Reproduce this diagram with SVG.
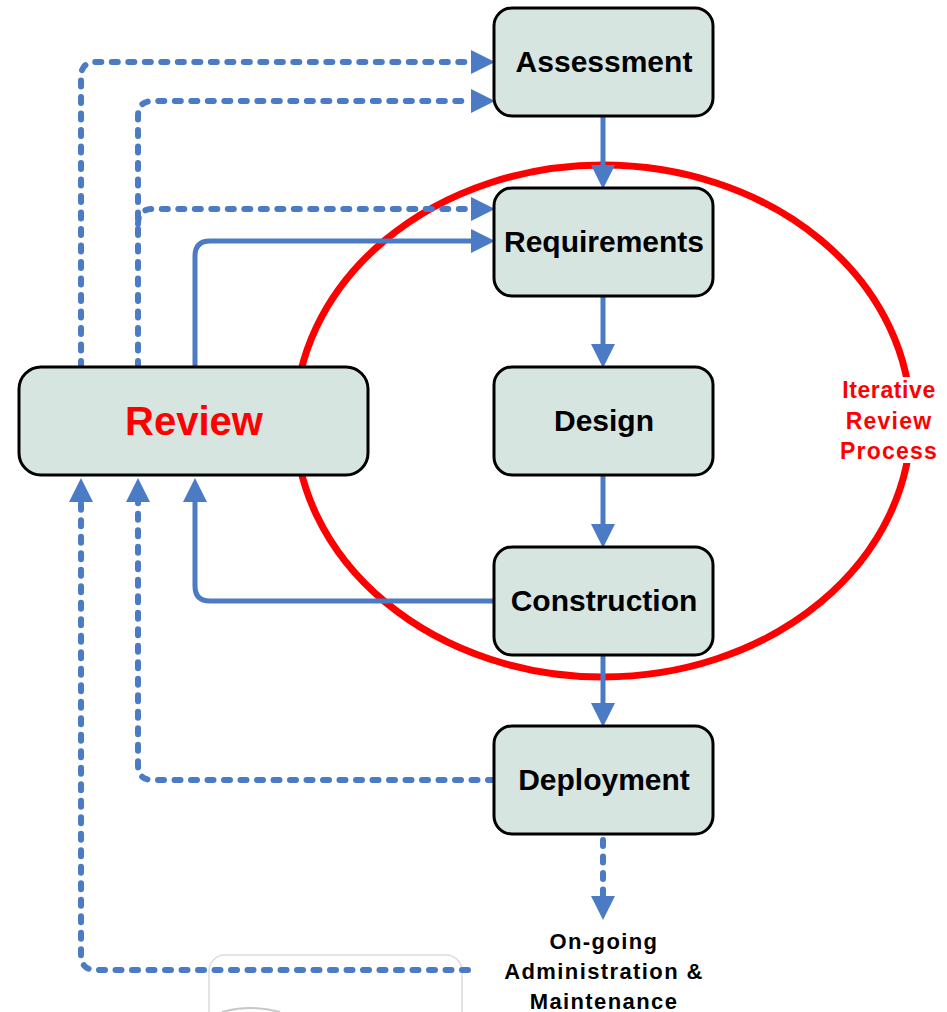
<svg xmlns="http://www.w3.org/2000/svg" width="947" height="1012" viewBox="0 0 947 1012">
<style>
.node{fill:#d7e5e0;stroke:#000;stroke-width:3}
.lbl{font-family:"Liberation Sans",Arial,sans-serif;font-weight:bold;font-size:30px;fill:#000;text-anchor:middle}
.c{fill:none;stroke:#4a7bc4;stroke-width:5}
.d{stroke-dasharray:6 10.5;stroke-linecap:round;stroke-width:6}
.red{font-family:"Liberation Sans",Arial,sans-serif;font-weight:bold;fill:#ff0000;text-anchor:middle}
.note{font-family:"Liberation Sans",Arial,sans-serif;font-weight:bold;font-size:22px;fill:#000;text-anchor:middle;letter-spacing:1.4px}
</style>
<defs>
<marker id="ah" markerUnits="userSpaceOnUse" markerWidth="24" markerHeight="24" refX="0" refY="12" orient="auto" viewBox="0 0 24 24">
<path d="M0,0 L24,12 L0,24 Z" fill="#4a7bc4"/>
</marker>
</defs>
<rect x="209" y="955" width="253" height="80" rx="16" fill="none" stroke="#dcdcdc" stroke-width="1.5"/>
<path d="M222,1012 Q250,1004 280,1012" fill="none" stroke="#c8c8c8" stroke-width="2"/>
<ellipse cx="603" cy="421" rx="308" ry="256" fill="none" stroke="#ff0000" stroke-width="7"/>
<g id="connectors">
<path class="c d" d="M81,367 V77 Q81,62 96,62 H471" marker-end="url(#ah)"/>
<path class="c d" d="M138,367 V116 Q138,101 153,101 H471" marker-end="url(#ah)"/>
<path class="c d" d="M138,224 Q138,209 153,209 H471" marker-end="url(#ah)"/>
<path class="c" d="M195,367 V256 Q195,241 210,241 H471" marker-end="url(#ah)"/>
<path class="c" d="M494,601 H210 Q195,601 195,586 V502" marker-end="url(#ah)"/>
<path class="c d" d="M494,780 H153 Q138,780 138,765 V502" marker-end="url(#ah)"/>
<path class="c d" d="M468,970 H96 Q81,970 81,955 V502" marker-end="url(#ah)"/>
<path class="c" d="M603,116 V165" marker-end="url(#ah)"/>
<path class="c" d="M603,296 V344" marker-end="url(#ah)"/>
<path class="c" d="M603,475 V524" marker-end="url(#ah)"/>
<path class="c" d="M603,655 V703" marker-end="url(#ah)"/>
<path class="c d" d="M603,840 V896" marker-end="url(#ah)"/>
</g>
<g id="assessment"><rect class="node" x="494" y="8" width="219" height="108" rx="18"/><text class="lbl" x="604" y="72">Assessment</text></g>
<g id="requirements"><rect class="node" x="494" y="188" width="219" height="108" rx="18"/><text class="lbl" x="604" y="252">Requirements</text></g>
<g id="design"><rect class="node" x="494" y="367" width="219" height="108" rx="18"/><text class="lbl" x="604" y="431">Design</text></g>
<g id="construction"><rect class="node" x="494" y="547" width="219" height="108" rx="18"/><text class="lbl" x="604" y="611">Construction</text></g>
<g id="deployment"><rect class="node" x="494" y="726" width="219" height="108" rx="18"/><text class="lbl" x="604" y="790">Deployment</text></g>
<g id="review"><rect class="node" x="19" y="367" width="349" height="108" rx="22"/><text class="red" x="194" y="435" font-size="40">Review</text></g>
<g id="iterative-label">
<rect x="838" y="377" width="104" height="86" fill="#fff"/>
<text class="red" font-size="23" x="889" y="398" letter-spacing="0.6">Iterative</text>
<text class="red" font-size="23" x="889" y="429" letter-spacing="1.2">Review</text>
<text class="red" font-size="23" x="889" y="459" letter-spacing="1.2">Process</text>
</g>
<g id="ongoing">
<text class="note" x="604" y="949">On-going</text>
<text class="note" x="604" y="979">Administration &amp;</text>
<text class="note" x="604" y="1009">Maintenance</text>
</g>
</svg>
